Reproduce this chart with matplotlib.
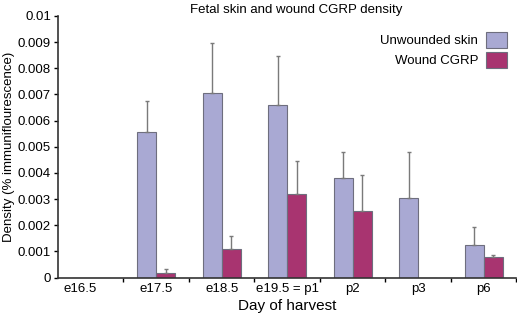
import matplotlib
matplotlib.use("Agg")
import matplotlib.pyplot as plt
import matplotlib.transforms as mtransforms
import numpy as np

plt.rcParams['font.family'] = ['Liberation Sans', 'DejaVu Sans']

days = ['e16.5', 'e17.5', 'e18.5', 'e19.5 = p1', 'p2', 'p3', 'p6']
unwounded = [0, 0.00557, 0.00707, 0.00659, 0.00382, 0.00305, 0.00125]
unwounded_err = [0, 0.00119, 0.00190, 0.00187, 0.00097, 0.00174, 0.00067]
wound = [0, 0.00018, 0.00108, 0.00321, 0.00255, 0, 0.00080]
wound_err = [0, 0.00015, 0.00051, 0.00126, 0.00138, 0, 0.00005]

blue = '#a9a9d3'
red = '#a83470'
grey = '#7a7a7a'

fig = plt.figure(figsize=(5.17, 3.18), dpi=100)
ax = fig.add_axes([0.112, 0.127, 0.887, 0.823])

x = np.arange(len(days))
w = 0.29

for vals, errs, off, col, lab in [(unwounded, unwounded_err, -w / 2, blue, 'Unwounded skin'),
                                  (wound, wound_err, w / 2, red, 'Wound CGRP')]:
    vals = np.array(vals)
    errs = np.array(errs)
    ax.bar(x + off, vals, width=w, color=col, edgecolor='#6e6e7e', linewidth=0.8, label=lab)
    keep = errs > 0
    ax.errorbar(x[keep] + off, vals[keep], yerr=[np.zeros(keep.sum()), errs[keep]],
                fmt='none', ecolor=grey, elinewidth=1, capsize=1.5, capthick=1)

ax.set_xlim(-0.5, 6.5)
ax.set_ylim(0, 0.01)
ax.set_yticks(np.arange(0, 0.0101, 0.001))
ax.set_yticklabels(['0', '0.001', '0.002', '0.003', '0.004', '0.005',
                    '0.006', '0.007', '0.008', '0.009', '0.01'])
ax.set_xticks(x)
ax.set_xticklabels(days)
ax.set_xticks(np.arange(0.5, 7, 1), minor=True)
ax.tick_params(axis='x', which='major', length=0, pad=4, labelsize=9.5)
ax.tick_params(axis='x', which='minor', length=3, width=1)
ax.tick_params(axis='y', length=3, width=1, pad=2, labelsize=9.5)

# first label sits a bit left of its slot in the original
lbl = ax.get_xticklabels()[0]
lbl.set_transform(lbl.get_transform() + mtransforms.ScaledTranslation(-0.11, 0, fig.dpi_scale_trans))

for s in ['top', 'right']:
    ax.spines[s].set_visible(False)
for s in ['left', 'bottom']:
    ax.spines[s].set_linewidth(1.2)
    ax.spines[s].set_color('#333333')

ax.set_title('Fetal skin and wound CGRP density', fontsize=9.5, pad=2, x=0.52)
ax.set_ylabel('Density (% immuniflourescence)', fontsize=9.5, labelpad=2)
ax.set_xlabel('Day of harvest', fontsize=11, labelpad=3)

ax.legend(loc='upper right', bbox_to_anchor=(1.0, 0.975), frameon=False, markerfirst=False,
          fontsize=9.5, handlelength=1.6, handleheight=1.55, handletextpad=0.6, labelspacing=0.25,
          borderaxespad=0.3)

fig.savefig('out.png', dpi=100)
